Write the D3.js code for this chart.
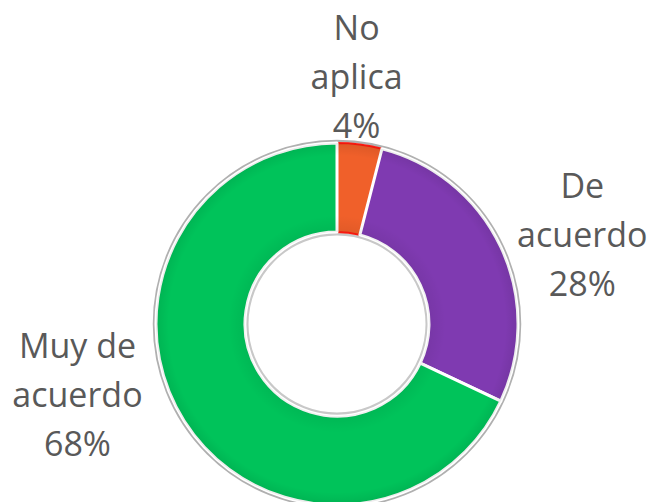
<!DOCTYPE html>
<html>
<head>
<meta charset="utf-8">
<script src="https://cdn.jsdelivr.net/npm/d3@7"></script>
<style>
  body { margin: 0; background: #fff; }
  svg { display: block; }
</style>
</head>
<body>
<script>
// data
var categories = ["No aplica", "De acuerdo", "Muy de acuerdo"];
var values = [4, 28, 68];
var labelLines = [["No", "aplica", "4%"], ["De", "acuerdo", "28%"], ["Muy de", "acuerdo", "68%"]];

var colors = ["#f0602a", "#7f3ab1", "#00c35a"];
var edgeColors = ["#ff1a10", "#ffffff", "#ffffff"];
// small nudges for label placement off the label arc
var labelNudge = [[-13, 11], [10, 22], [-40, -68]];

var w = 652, h = 502;
var cx = 337, cy = 324;
var rOuter = 181, rInner = 92, rLabel = 260;

var svg = d3.select("body").append("svg")
  .attr("width", w)
  .attr("height", h);

var color = d3.scaleOrdinal().domain(categories).range(colors);

var pie = d3.pie().sort(null).value(function(d) { return d.v; });
var arcs = pie(categories.map(function(c, i) { return { name: c, v: values[i], i: i }; }));

var arc = d3.arc().innerRadius(rInner).outerRadius(rOuter);
var labelArc = d3.arc().innerRadius(rLabel).outerRadius(rLabel);

var defs = svg.append("defs");
// faint shading near the ring edges
var grad = defs.append("radialGradient")
  .attr("id", "shade")
  .attr("gradientUnits", "userSpaceOnUse")
  .attr("cx", 0).attr("cy", 0).attr("r", rOuter);
grad.append("stop").attr("offset", rInner / rOuter).attr("stop-color", "#000").attr("stop-opacity", 0.06);
grad.append("stop").attr("offset", 0.6).attr("stop-color", "#000").attr("stop-opacity", 0);
grad.append("stop").attr("offset", 0.93).attr("stop-color", "#000").attr("stop-opacity", 0);
grad.append("stop").attr("offset", 1).attr("stop-color", "#000").attr("stop-opacity", 0.08);

var g = svg.append("g").attr("transform", "translate(" + cx + "," + cy + ")");

// grey rim round the ring
g.append("circle")
  .attr("r", rOuter + 2)
  .attr("fill", "none")
  .attr("stroke", "#b0b0b0")
  .attr("stroke-width", 2.5);
g.append("circle")
  .attr("r", rInner - 2)
  .attr("fill", "none")
  .attr("stroke", "#c8c8c8")
  .attr("stroke-width", 3);

g.selectAll("path.slice")
  .data(arcs)
  .enter()
  .append("path")
  .attr("class", "slice")
  .attr("d", arc)
  .attr("fill", function(d) { return color(d.data.name); })
  .attr("stroke", function(d) { return edgeColors[d.data.i]; })
  .attr("stroke-width", function(d) { return d.data.i === 0 ? 2 : 3; })
  .attr("stroke-linejoin", "round");

g.selectAll("path.shade")
  .data(arcs)
  .enter()
  .append("path")
  .attr("class", "shade")
  .attr("d", arc)
  .attr("fill", "url(#shade)")
  .attr("pointer-events", "none");

// labels
var lineH = 49;
var labels = g.selectAll("text.lbl")
  .data(arcs)
  .enter()
  .append("text")
  .attr("class", "lbl")
  .attr("text-anchor", "middle")
  .attr("font-family", "'Open Sans', sans-serif")
  .attr("font-size", "34px")
  .attr("fill", "#595959")
  .attr("transform", function(d) {
    var p = labelArc.centroid(d);
    var n = labelNudge[d.data.i];
    return "translate(" + (p[0] + n[0]) + "," + (p[1] + n[1] + 12) + ")";
  });

labels.selectAll("tspan")
  .data(function(d) { return labelLines[d.data.i]; })
  .enter()
  .append("tspan")
  .attr("x", 0)
  .attr("y", function(d, k) { return (k - 1) * lineH; })
  .text(function(d) { return d; });
</script>
</body>
</html>
